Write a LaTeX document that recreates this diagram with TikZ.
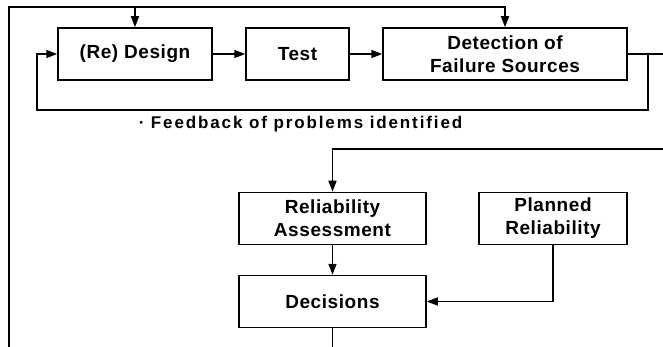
\documentclass[tikz,border=0pt]{standalone}
\usepackage{fontspec}
\setmainfont{Liberation Sans}
\newfontfamily\boxfont{Liberation Sans}[LetterSpace=3]
\newfontfamily\notefont{Liberation Sans}[LetterSpace=11]
\usetikzlibrary{positioning,arrows.meta}

\begin{document}
\begin{tikzpicture}[x=1pt,y=1pt,on grid,line width=1.5pt,>={Triangle[length=11pt,width=8pt]}]
            \tikzstyle{block}=[draw, minimum height=52pt, align=center, inner sep=2pt,
                               font=\boxfont\bfseries\fontsize{19}{23}\selectfont]
            \useasboundingbox (0,0) rectangle (663,-347);

            \node[block, minimum width=154pt] (design)  at (135,-54)                        {(Re) Design};
            \node[block, minimum width=103pt] (test)    [right = 162.5pt of design]          {Test};
            \node[block, minimum width=244pt] (detect)  [right = 207.5pt of test]            {Detection of\\Failure Sources};
            \node[block, minimum width=187pt] (assess)  [below right = 164.5pt and 35pt of test] {Reliability\\Assessment};
            \node[block, minimum width=148pt] (planned) [right = 220.5pt of assess]          {Planned\\Reliability};
            \node[block, minimum width=187pt] (decide)  [below = 83pt of assess]             {Decisions};

            \node[anchor=base west, inner sep=0pt, font=\notefont\bfseries\fontsize{17}{20}\selectfont]
                (note) at (138,-129) {· Feedback of problems identified};

            % loose ends of the lines
            \coordinate (topleft)   at (9,-7);
            \coordinate (botleft)   at (9,-347);
            \coordinate (loopright) at (648,-110);
            \coordinate (loopleft)  at (37,-110);
            \coordinate (edgetop)   at (663,-53);
            \coordinate (edgemid)   at (663,-149);

            \draw[->] (botleft) -- (topleft) -| (detect);
            \draw[->] (design |- topleft) -- (design);
            \draw[->] (design) -- (test);
            \draw[->] (test) -- (detect);
            \draw     (detect) -- (detect -| edgetop);
            \draw[->] (detect -| loopright) -- (loopright) -- (loopleft) |- (design);
            \draw[->] (edgemid) -| (assess);
            \draw[->] (assess) -- (decide);
            \draw[->] (planned) |- (decide);
            \draw     (decide) -- (decide |- botleft);
\end{tikzpicture}
\end{document}
